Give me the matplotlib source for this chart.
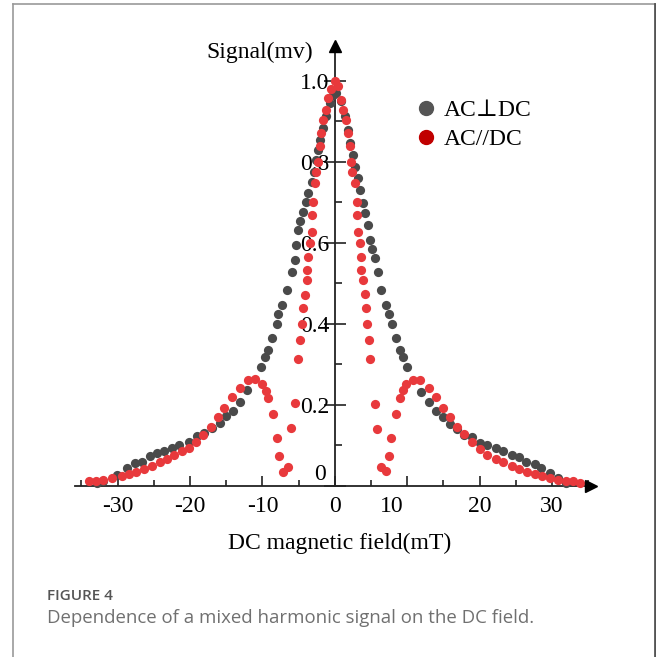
import matplotlib
matplotlib.use("Agg")
import matplotlib.pyplot as plt
import matplotlib.transforms as mtransforms
from matplotlib.lines import Line2D
from matplotlib.ticker import MultipleLocator

plt.rcParams['axes.unicode_minus'] = False

# AC perpendicular to DC
perp_x = [-32.9, -32.0, -30.1, -28.7, -27.6, -26.7, -25.6, -24.6, -23.6, -22.5,
          -21.5, -20.2, -19.1, -18.1, -17.0, -15.9, -15.0, -14.1, -13.1, -12.1,
          -10.2, -9.6, -9.2, -8.7, -8.05, -7.8, -7.35, -6.66, -5.97, -5.5,
          -5.3, -5.06, -4.83, -4.37, -4.0, -3.68, -3.2, -2.85, -2.53, -2.3,
          -2.07, -1.6, -1.15, -0.69, -0.23, 0.23, 0.92, 1.38, 1.83, 2.07,
          2.5, 2.76, 3.2, 3.45, 3.9, 4.14, 4.6, 4.83, 5.2, 5.5,
          5.97, 6.44, 7.13, 7.5, 7.96, 8.5, 8.97, 9.4, 9.98, 11.95,
          13.0, 14.0, 14.9, 15.96, 16.9, 17.9, 18.9, 20.0, 21.1, 22.3,
          23.3, 24.5, 25.5, 26.4, 27.6, 28.5, 29.7, 30.8, 31.9]
perp_y = [0.007, 0.011, 0.027, 0.044, 0.056, 0.060, 0.075, 0.081, 0.085, 0.093,
          0.100, 0.108, 0.122, 0.130, 0.142, 0.155, 0.173, 0.186, 0.208, 0.237,
          0.293, 0.319, 0.336, 0.365, 0.400, 0.424, 0.447, 0.484, 0.527, 0.558,
          0.595, 0.632, 0.653, 0.677, 0.700, 0.722, 0.751, 0.776, 0.805, 0.830,
          0.854, 0.883, 0.912, 0.945, 0.965, 0.970, 0.949, 0.912, 0.879, 0.846,
          0.817, 0.788, 0.760, 0.731, 0.698, 0.673, 0.644, 0.607, 0.585, 0.562,
          0.527, 0.484, 0.447, 0.424, 0.400, 0.365, 0.336, 0.319, 0.293, 0.233,
          0.208, 0.186, 0.171, 0.153, 0.140, 0.126, 0.120, 0.107, 0.101, 0.093,
          0.085, 0.077, 0.072, 0.060, 0.054, 0.044, 0.031, 0.019, 0.007]

# AC parallel to DC
par_x = [-34.0, -33.0, -32.0, -30.8, -29.4, -28.4, -27.4, -26.3, -25.3, -24.2,
         -23.2, -22.2, -21.1, -20.2, -19.2, -18.2, -17.1, -16.2, -15.3, -14.25,
         -13.1, -12.0, -11.0, -10.1, -9.5, -9.2, -8.6, -8.0, -7.66, -7.2,
         -6.5, -6.07, -5.5, -5.06, -4.83, -4.6, -4.37, -4.14, -3.9, -3.9,
         -3.68, -3.45, -3.2, -3.2, -2.99, -2.76, -2.53, -2.3, -2.07, -1.84,
         -1.6, -1.15, -0.92, -0.46, 0.0, 0.46, 0.92, 1.15, 1.6, 1.84,
         2.07, 2.3, 2.44, 2.76, 3.0, 3.0, 3.2, 3.45, 3.6, 3.68,
         3.9, 4.14, 4.28, 4.5, 4.7, 4.92, 5.5, 5.9, 6.44, 7.13,
         7.5, 7.8, 8.4, 8.97, 9.4, 9.9, 10.8, 11.8, 13.0, 14.0,
         15.0, 15.96, 16.9, 17.9, 19.0, 20.0, 21.1, 22.3, 23.3, 24.5,
         25.5, 26.6, 27.6, 28.6, 29.7, 30.8, 31.9, 32.9, 33.9]
par_y = [0.011, 0.012, 0.015, 0.019, 0.025, 0.030, 0.035, 0.041, 0.048, 0.058,
         0.066, 0.077, 0.085, 0.093, 0.108, 0.126, 0.146, 0.171, 0.192, 0.219,
         0.241, 0.262, 0.263, 0.252, 0.235, 0.216, 0.177, 0.118, 0.074, 0.035,
         0.046, 0.142, 0.204, 0.314, 0.360, 0.400, 0.439, 0.472, 0.509, 0.533,
         0.566, 0.599, 0.628, 0.669, 0.702, 0.747, 0.776, 0.800, 0.838, 0.871,
         0.904, 0.928, 0.957, 0.980, 1.000, 0.986, 0.953, 0.928, 0.904, 0.871,
         0.838, 0.800, 0.776, 0.747, 0.702, 0.669, 0.628, 0.599, 0.566, 0.533,
         0.509, 0.474, 0.439, 0.400, 0.359, 0.314, 0.202, 0.141, 0.046, 0.038,
         0.074, 0.118, 0.177, 0.216, 0.237, 0.252, 0.262, 0.262, 0.241, 0.219,
         0.192, 0.171, 0.146, 0.128, 0.109, 0.090, 0.077, 0.066, 0.058, 0.048,
         0.041, 0.035, 0.030, 0.025, 0.019, 0.015, 0.012, 0.011, 0.008]

x_ticks = [-30, -20, -10, 0, 10, 20, 30]
y_ticks = [0, 0.2, 0.4, 0.6, 0.8, 1.0]
y_labels = ['0', '0.2', '0.4', '0.6', '0.8', '1.0']

gray = '#4a4a4a'
red = '#e8393c'
serif = ['Liberation Serif', 'DejaVu Serif']

fig = plt.figure(figsize=(6.56, 6.57), dpi=100)
ax = fig.add_axes([0.1143, 0.2481, 0.7866, 0.6819])

ax.scatter(perp_x, perp_y, s=44, color=gray, linewidths=0, zorder=3)
ax.scatter(par_x, par_y, s=44, color=red, linewidths=0, zorder=4)

ax.set_xlim(-35.9, 35.4)
ax.set_ylim(-0.02, 1.086)

# axes crossing at the origin, with arrow heads
for side in ['top', 'right']:
    ax.spines[side].set_visible(False)
ax.spines['left'].set_position(('data', 0))
ax.spines['bottom'].set_position(('data', 0))
ax.spines['left'].set_bounds(0, 1.086)
for side in ['left', 'bottom']:
    ax.spines[side].set_color('#222222')
    ax.spines[side].set_linewidth(1.3)
ax.plot(1, 0, '>', color='black', ms=9, transform=ax.get_yaxis_transform(), clip_on=False, zorder=5)
ax.plot(0, 1, '^', color='black', ms=9, transform=ax.get_xaxis_transform(), clip_on=False, zorder=5)

ax.set_xticks(x_ticks)
ax.set_xticklabels([str(t) for t in x_ticks], family=serif, fontsize=17)
ax.xaxis.set_minor_locator(MultipleLocator(5))
ax.tick_params(axis='x', which='major', direction='in', length=7, width=1.2, color='#222222', pad=7)
ax.tick_params(axis='x', which='minor', direction='in', length=4, width=1.2, color='#222222')

ax.set_yticks(y_ticks)
ax.set_yticklabels(y_labels, family=serif, fontsize=17)
ax.yaxis.set_minor_locator(MultipleLocator(0.1))
ax.tick_params(axis='y', which='major', direction='inout', length=16, width=1.2, color='#222222', pad=-4)
ax.tick_params(axis='y', which='minor', direction='in', length=5, width=1.2, color='#222222')

# a few labels sit off their ticks (offsets in pixels)
px = fig.dpi_scale_trans
for lab in ax.get_yticklabels():
    if lab.get_text() == '0':
        lab.set_transform(lab.get_transform() + mtransforms.ScaledTranslation(-3 / 100, 14 / 100, px))
for lab in ax.get_xticklabels():
    if lab.get_text() == '10':
        lab.set_transform(lab.get_transform() + mtransforms.ScaledTranslation(-15 / 100, 0, px))

fig.text(260 / 656, 1 - 52 / 657, 'Signal(mv)', family=serif, fontsize=17, ha='center', va='center')
fig.text(340 / 656, 1 - 543 / 657, 'DC magnetic field(mT)', family=serif, fontsize=17, ha='center', va='center')

handles = [Line2D([], [], ls='none', marker='o', ms=10, color='#555555'),
           Line2D([], [], ls='none', marker='o', ms=10, color='#c00000')]
ax.legend(handles, ['AC\u22a5DC', 'AC//DC'], loc='upper left', bbox_to_anchor=(405 / 656, 1 - 88 / 657),
          bbox_transform=fig.transFigure, frameon=False, prop={'family': serif, 'size': 17},
          handlelength=0.8, handletextpad=0.35, labelspacing=0.3, borderpad=0)

# caption panel
fig.add_artist(Line2D([13 / 656, 13 / 656], [0, 1 - 3.5 / 657], color='#999999', lw=1.2, transform=fig.transFigure))
fig.add_artist(Line2D([13 / 656, 655 / 656], [1 - 3.5 / 657, 1 - 3.5 / 657], color='#999999', lw=1.2, transform=fig.transFigure))
fig.add_artist(Line2D([655 / 656, 655 / 656], [0, 1 - 3.5 / 657], color='#555555', lw=2, transform=fig.transFigure))
fig.text(47 / 656, 1 - 596 / 657, 'FIGURE 4', family='Open Sans', fontweight='semibold', fontsize=11, color='#555555', va='center')
fig.text(47 / 656, 1 - 618 / 657, 'Dependence of a mixed harmonic signal on the DC field.', family='Open Sans',
         fontsize=13.4, color='#707070', va='center')

fig.savefig('out.png', dpi=100)
